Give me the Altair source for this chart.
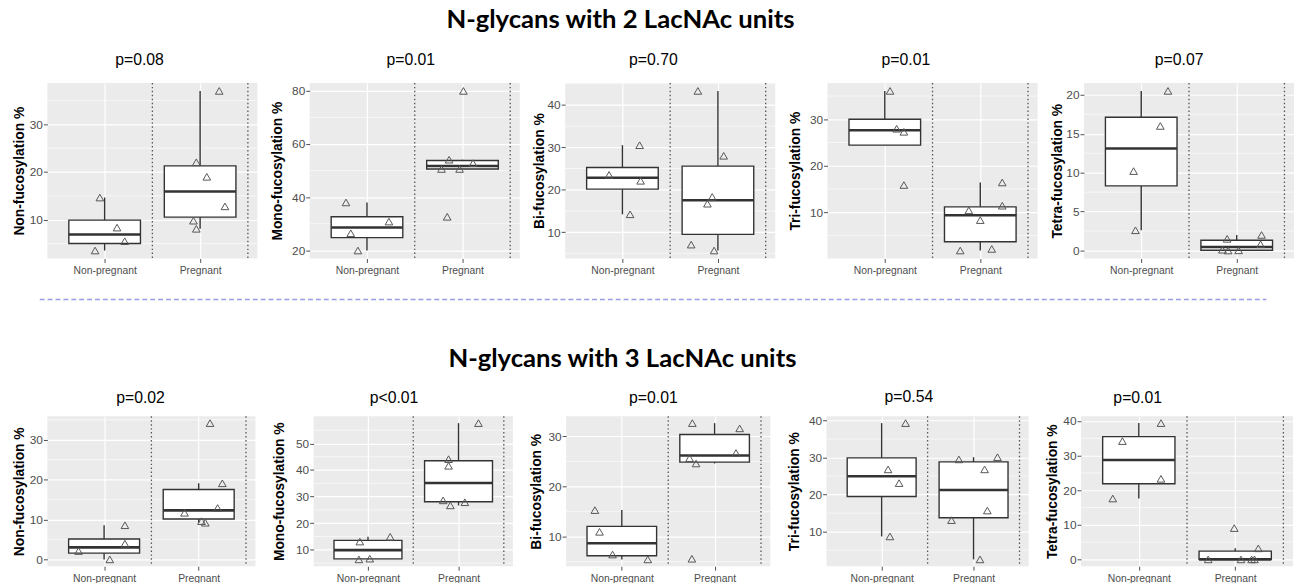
import altair as alt
import numpy as np
import pandas as pd

# ---------------- data ----------------
GROUPS = ["Non-pregnant", "Pregnant"]
ROW_TITLES = ["N-glycans with 2 LacNAc units", "N-glycans with 3 LacNAc units"]
Y_TITLES = ["Non-fucosylation %", "Mono-fucosylation %", "Bi-fucosylation %",
            "Tri-fucosylation %", "Tetra-fucosylation %"]
P_LABELS_2 = ["p=0.08", "p=0.01", "p=0.70", "p=0.01", "p=0.07"]
P_LABELS_3 = ["p=0.02", "p<0.01", "p=0.01", "p=0.54", "p=0.01"]

# N-glycans with 2 LacNAc units
NP_2 = [
    [14.65, 8.35, 5.5, 3.55],
    [38.0, 26.4, 30.8, 19.9],
    [23.5, 30.5, 22.1, 14.2],
    [36.1, 27.96, 27.3, 15.85],
    [20.5, 16.0, 10.2, 2.6],
]
NP_2_POS = [
    [0.95, 1.13, 1.21, 0.90],
    [0.78, 0.83, 1.23, 0.905],
    [0.86, 1.18, 1.19, 1.08],
    [1.055, 1.124, 1.20, 1.20],
    [1.28, 1.20, 0.92, 0.94],
]
PR_2 = [
    [37.0, 22.05, 19.0, 12.8, 9.8, 8.1],
    [80.0, 54.1, 50.6, 50.6, 52.8, 32.6],
    [43.3, 28.0, 18.3, 16.7, 7.05, 5.66],
    [10.4, 8.3, 16.4, 11.4, 1.76, 2.1],
    [1.5, 2.0, 0.8, 0.1, 0.0, 0.02],
]
PR_2_POS = [
    [2.20, 1.96, 2.07, 2.26, 1.93, 1.96],
    [2.01, 1.86, 1.78, 1.97, 2.11, 1.84],
    [1.79, 2.06, 1.94, 1.89, 1.72, 1.96],
    [1.88, 2.00, 2.23, 2.23, 1.79, 2.12],
    [1.90, 2.26, 2.25, 1.85, 1.91, 2.02],
]
TICKS_2 = [[10, 20, 30], [20, 40, 60, 80], [10, 20, 30, 40], [0, 10, 20, 30], [0, 5, 10, 15, 20]]

# N-glycans with 3 LacNAc units
NP_3 = [
    [2.1, 8.57, 3.95, 0.0],
    [13.1, 14.9, 6.4, 6.67],
    [15.3, 10.97, 6.44, 5.47],
    [39.3, 26.8, 23.1, 8.7],
    [39.4, 34.2, 23.3, 17.6],
]
NP_3_POS = [
    [0.73, 1.22, 1.22, 1.06],
    [0.91, 1.245, 0.90, 1.02],
    [0.71, 0.76, 0.90, 1.28],
    [1.26, 1.07, 1.19, 1.09],
    [1.23, 0.83, 1.23, 0.73],
]
PR_3 = [
    [34.2, 19.1, 12.9, 11.7, 9.6, 9.2],
    [57.65, 44.1, 41.6, 28.6, 26.7, 27.9],
    [32.65, 31.6, 25.66, 24.6, 26.7, 5.6],
    [29.5, 30.1, 26.8, 15.7, 13.1, 2.5],
    [9.05, 3.2, 0.0, 0.0, 0.0, 0.0],
]
PR_3_POS = [
    [2.12, 2.25, 2.20, 1.85, 2.03, 2.07],
    [2.22, 1.89, 1.89, 1.83, 1.91, 2.07],
    [1.76, 2.27, 1.73, 1.80, 2.23, 1.755],
    [1.84, 2.26, 2.12, 2.15, 1.76, 2.07],
    [1.99, 2.24, 1.72, 2.06, 2.17, 2.20],
]
TICKS_3 = [[0, 10, 20, 30], [10, 20, 30, 40, 50], [10, 20, 30], [10, 20, 30, 40], [0, 10, 20, 30, 40]]

# ---------------- layout (not data) ----------------
ROW1_W = [213, 213, 213, 213, 213]
ROW1_H = 178
ROW1_TPAD = [3, 7.3, 1, 7.6, 1.4]
ROW1_PDX = [-13, -4, -17, -27, -10]
ROW2_W = [211, 202, 207, 205, 215]
ROW2_H = 152
ROW2_TPAD = [3, 9.8, 4.8, 7.4, 3.6]
ROW2_PDX = [-11, -19.5, -15, -19, -50]
BOX_HALF = 0.375
FONT = "Liberation Sans"
DARK = "#333333"
GREY = "#4D4D4D"


def build_panel(np_vals, np_pos, pr_vals, pr_pos, ticks, ytitle, ptitle, w, h, tpad, poff, pdx):
    pts = pd.DataFrame({"pos": list(np_pos) + list(pr_pos),
                        "val": list(np_vals) + list(pr_vals)})
    rows = []
    for gi, vals in enumerate([np_vals, pr_vals], start=1):
        v = np.asarray(vals, dtype=float)
        q1, med, q3 = np.percentile(v, [25, 50, 75])
        iqr = q3 - q1
        lo = v[v >= q1 - 1.5 * iqr].min()
        hi = v[v <= q3 + 1.5 * iqr].max()
        rows.append(dict(g=gi, left=gi - BOX_HALF, right=gi + BOX_HALF,
                         q1=q1, med=med, q3=q3, lo=lo, hi=hi))
    stats = pd.DataFrame(rows)

    allv = np.asarray(list(np_vals) + list(pr_vals), dtype=float)
    vmin, vmax = allv.min(), allv.max()
    pad = 0.05 * (vmax - vmin)
    dom = [float(vmin - pad), float(vmax + pad)]
    step = ticks[1] - ticks[0]
    minor = [t + step / 2 for t in [ticks[0] - step] + list(ticks)]
    minor = [m for m in minor if dom[0] <= m <= dom[1]]

    xs = alt.Scale(domain=[0.4, 2.6], nice=False, zero=False)
    ys = alt.Scale(domain=dom, nice=False, zero=False)
    xaxis = alt.Axis(values=[1, 2],
                     labelExpr=f"datum.value == 1 ? '{GROUPS[0]}' : '{GROUPS[1]}'",
                     title=None, grid=True)
    yaxis = alt.Axis(values=ticks, title=ytitle, titlePadding=tpad,
                     minExtent=18, maxExtent=18, grid=True)

    def X(f):
        return alt.X(f, type="quantitative", scale=xs, axis=xaxis)

    def Y(f):
        return alt.Y(f, type="quantitative", scale=ys, axis=yaxis)

    minor_l = alt.Chart(pd.DataFrame({"m": minor})).mark_rule(
        color="white", strokeWidth=0.6).encode(y=Y("m"))
    vlines = alt.Chart(pd.DataFrame({"b": [1.5, 2.5]})).mark_rule(
        color="#555555", strokeDash=[1.5, 2.5], strokeWidth=1.3).encode(x=X("b"))
    whisk = alt.Chart(stats).mark_rule(color=DARK, strokeWidth=1.4).encode(
        x=X("g"), y=Y("lo"), y2="hi")
    box = alt.Chart(stats).mark_rect(fill="white", stroke=DARK, strokeWidth=1.4).encode(
        x=X("left"), x2="right", y=Y("q1"), y2="q3")
    med = alt.Chart(stats).mark_rule(color=DARK, strokeWidth=2.6).encode(
        x=X("left"), x2="right", y=Y("med"))
    pts_l = alt.Chart(pts).mark_point(shape="triangle-up", filled=False, color="#555555",
                                      size=60, strokeWidth=1, opacity=1).encode(
        x=X("pos"), y=Y("val"))
    return alt.layer(minor_l, vlines, whisk, box, med, pts_l).properties(
        width=w, height=h,
        title=alt.TitleParams(text=ptitle, font=FONT, fontSize=16, fontWeight="normal",
                              color="black", baseline="top", offset=poff,
                              anchor="middle", frame="group", dx=pdx))


row1 = alt.hconcat(*[
    build_panel(NP_2[i], NP_2_POS[i], PR_2[i], PR_2_POS[i], TICKS_2[i], Y_TITLES[i],
                P_LABELS_2[i], ROW1_W[i], ROW1_H, ROW1_TPAD[i], 14.6, ROW1_PDX[i])
    for i in range(5)], spacing=12).properties(
    title=alt.TitleParams(text=ROW_TITLES[0], font="Lato", fontSize=26, fontWeight="bold",
                          color="black", baseline="top", offset=19.5, anchor="middle", dx=-33.6))

row2 = alt.hconcat(*[
    build_panel(NP_3[i], NP_3_POS[i], PR_3[i], PR_3_POS[i], TICKS_3[i], Y_TITLES[i],
                P_LABELS_3[i], ROW2_W[i], ROW2_H, ROW2_TPAD[i], 9.6, ROW2_PDX[i])
    for i in range(5)], spacing=16).properties(
    title=alt.TitleParams(text=ROW_TITLES[1], font="Lato", fontSize=26, fontWeight="bold",
                          color="black", baseline="top", offset=17.5, anchor="middle", dx=-31.1))

sep = alt.Chart(pd.DataFrame({"d": [0]})).mark_rule(
    color="#9A9AE6", strokeDash=[5, 3], strokeWidth=1.5).encode(
    x=alt.value(-7.7), x2=alt.value(1236), y=alt.value(23.5)).properties(
    width=1238, height=70.4, view=alt.ViewBackground(fill="white", strokeWidth=0))

chart = alt.vconcat(row1, sep, row2, spacing=0).properties(
    padding={"left": 12, "top": 3, "right": 0, "bottom": 0}
).configure(background="white").configure_view(
    fill="#EBEBEB", strokeWidth=0
).configure_axis(
    domain=False, tickColor=GREY, tickSize=4, tickWidth=1, labelColor=GREY,
    labelFont=FONT, labelFontSize=12, labelPadding=1, titleFont=FONT,
    titleFontSize=14, titleFontWeight="bold", titleColor="black",
    gridColor="white", gridWidth=1.2
).configure_axisX(labelFontSize=10.5, labelPadding=3)

chart.save("out.html", embed_options={"renderer": "svg", "actions": False})
